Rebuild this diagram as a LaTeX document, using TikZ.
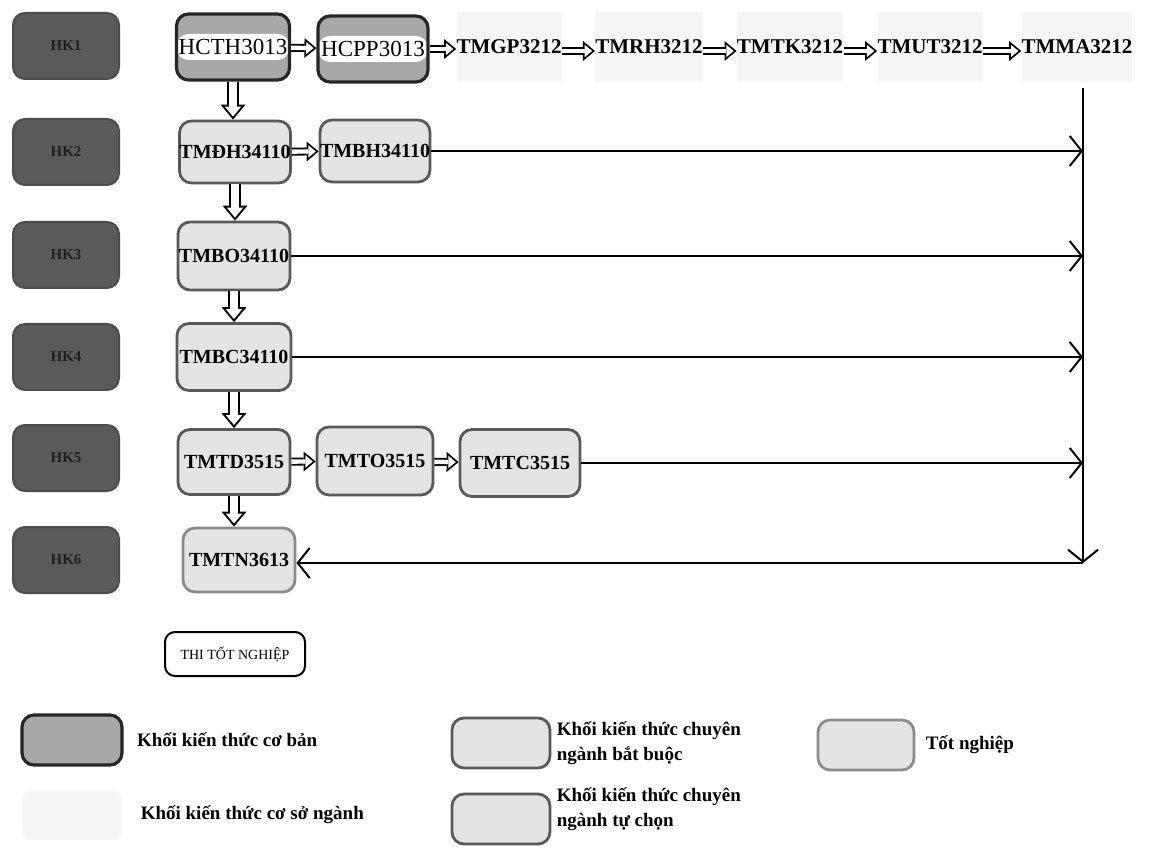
\documentclass[tikz,border=0pt]{standalone}
\usepackage{fontspec}
\setmainfont{Liberation Serif}
\usetikzlibrary{arrows.meta}

\definecolor{hkgray}{HTML}{5A5A5A}
\definecolor{basegray}{HTML}{A8A8A8}
\definecolor{majgray}{HTML}{E4E4E4}
\definecolor{fadegray}{HTML}{F6F6F6}

\begin{document}
\begin{tikzpicture}[x=0.5pt, y=-0.5pt,
	every node/.style={font=\bfseries\fontsize{10}{12}\selectfont, inner sep=0pt},
	hkbox/.style={draw=hkgray!85!black, fill=hkgray, rounded corners=6pt, line width=1pt,
		minimum width=53pt, minimum height=33pt, text=black!88, font=\bfseries\fontsize{7.5}{9}\selectfont},
	basebox/.style={draw=black!85, line width=1.6pt, fill=basegray, rounded corners=6pt,
		path picture={\fill[white] ([yshift=-6.5pt]path picture bounding box.west) rectangle ([yshift=6.5pt]path picture bounding box.east);}},
	majbox/.style={draw=black!65, line width=1.4pt, fill=majgray, rounded corners=6pt},
	gradbox/.style={draw=black!45, line width=1.4pt, fill=majgray, rounded corners=6pt},
	fadebox/.style={fill=fadegray, minimum height=35pt, font=\bfseries\fontsize{10.5}{12}\selectfont},
	legend/.style={anchor=west, align=left, font=\bfseries\fontsize{9.5}{12.5}\selectfont},
	hollow/.style={preaction={draw=black, line width=4pt, shorten >=0pt,
			-{Triangle[length=6pt, width=10pt, line width=0pt]}},
		draw=white, line width=2.2pt, shorten >=1.41pt,
		-{Triangle[length=3.69pt, width=6.15pt, line width=0pt]}},
	hollowv/.style={preaction={draw=black, line width=6pt, shorten >=0pt,
			-{Triangle[length=7.5pt, width=12.5pt, line width=0pt]}},
		draw=white, line width=4pt, shorten >=1.56pt,
		-{Triangle[length=4.94pt, width=8.23pt, line width=0pt]}},
	link/.style={line width=1pt, -{Straight Barb[length=6pt, width=15pt]}}]
	\useasboundingbox (0,0) rectangle (1149,849);

	\foreach \i/\y in {1/46,2/152,3/255,4/357,5/458,6/560}
		\node[hkbox] (hk\i) at (66,\y) {HK\i};

	\node[basebox, minimum width=56.5pt, minimum height=33pt, font=\fontsize{11.5}{13}\selectfont] (hcth) at (233,47) {HCTH3013};
	\node[basebox, minimum width=55pt, minimum height=33pt, font=\fontsize{11.5}{13}\selectfont] (hcpp) at (373,49) {HCPP3013};
	\foreach \n/\x/\t in {tmgp/509/TMGP3212, tmrh/649/TMRH3212, tmtk/790/TMTK3212, tmut/930/TMUT3212, tmma/1077/TMMA3212}
		\node[fadebox] (\n) at (\x,47) {\t};

	\node[majbox, minimum width=55pt, minimum height=31pt] (tmdh) at (235,152) {TMĐH34110};
	\node[majbox, minimum width=53pt, minimum height=31pt] (tmbh) at (375,151) {TMBH34110};
	\node[majbox, minimum width=56pt, minimum height=34pt] (tmbo) at (234,256) {TMBO34110};
	\node[majbox, minimum width=57pt, minimum height=33.5pt] (tmbc) at (234,357) {TMBC34110};
	\node[majbox, minimum width=56pt, minimum height=32.5pt] (tmtd) at (234,462) {TMTD3515};
	\node[majbox, minimum width=58pt, minimum height=34pt] (tmto) at (375,461) {TMTO3515};
	\node[majbox, minimum width=60pt, minimum height=33.5pt] (tmtc) at (520,463) {TMTC3515};
	\node[gradbox, minimum width=56pt, minimum height=32pt] (tmtn) at (239,560) {TMTN3613};
	\node[draw, line width=1pt, rounded corners=5pt, fill=white, minimum width=70pt, minimum height=22pt,
		font=\fontsize{7}{9}\selectfont] (thi) at (235,654) {THI TỐT NGHIỆP};

	\draw[hollow] (hcth) -- (hcpp);
	\draw[hollow] (hcpp.east) -- (tmgp.west |- hcpp.east);
	\draw[hollow] ([yshift=-2pt]tmgp.east) -- ([yshift=-2pt]tmrh.west);
	\draw[hollow] ([yshift=-2pt]tmrh.east) -- ([yshift=-2pt]tmtk.west);
	\draw[hollow] ([yshift=-2pt]tmtk.east) -- ([yshift=-2pt]tmut.west);
	\draw[hollow] ([yshift=-2pt]tmut.east) -- ([yshift=-2pt]tmma.west);
	\draw[hollow] (tmdh) -- (tmbh);
	\draw[hollow] (tmtd) -- (tmto);
	\draw[hollow] (tmto) -- (tmtc);
	\draw[hollowv] (hcth.south) -- (hcth.south |- tmdh.north);
	\draw[hollowv] (tmdh.south) -- (tmdh.south |- tmbo.north);
	\draw[hollowv] (tmbo.south) -- (tmbo.south |- tmbc.north);
	\draw[hollowv] (tmbc.south) -- (tmbc.south |- tmtd.north);
	\draw[hollowv] (tmtd.south) -- (tmtd.south |- tmtn.north);

	\coordinate (top) at (1083,88);
	\coordinate (bot) at (1083,563);
	\foreach \n in {tmbh,tmbo,tmbc,tmtc}
		\draw[link] (\n.east) -- (\n.east -| top);
	\draw[link] (top) -- (bot);
	\draw[link] (bot) -- (bot -| tmtn.east);

	\node[basebox, path picture={}, minimum width=50pt, minimum height=25pt] (lg1) at (72,740) {};
	\node[legend, right=6.5pt] at (lg1.east) {Khối kiến thức cơ bản};
	\node[fill=fadegray, rounded corners=5pt, minimum width=50pt, minimum height=25pt] (lg2) at (72,815) {};
	\node[legend, right=9pt] at (lg2.east) {Khối kiến thức cơ sở ngành};
	\node[majbox, minimum width=49pt, minimum height=25pt] (lg3) at (501,743) {};
	\node[legend, right=2.5pt] at (lg3.east) {Khối kiến thức chuyên\\ngành bắt buộc};
	\node[majbox, minimum width=49pt, minimum height=25pt] (lg5) at (501,819) {};
	\node[legend, right=2.5pt] at ([yshift=5pt]lg5.east) {Khối kiến thức chuyên\\ngành tự chọn};
	\node[gradbox, minimum width=48pt, minimum height=25pt] (lg4) at (866,745) {};
	\node[legend, right=5pt] at (lg4.east) {Tốt nghiệp};
\end{tikzpicture}
\end{document}
